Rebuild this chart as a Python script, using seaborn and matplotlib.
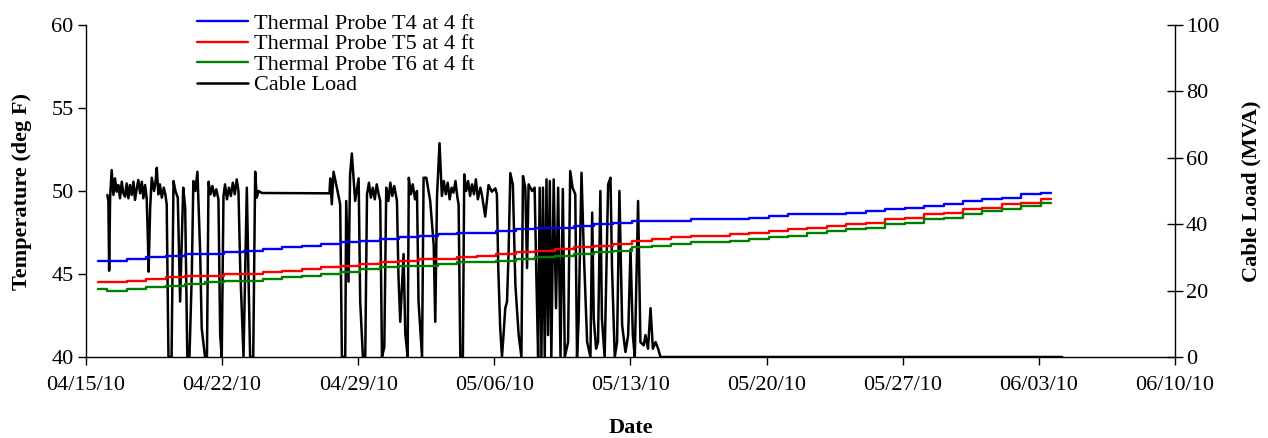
import numpy as np
import pandas as pd
import matplotlib
matplotlib.use('Agg')
import matplotlib.pyplot as plt
import matplotlib.dates as mdates
import seaborn as sns

# probe readings, one per day starting 04/15/10 14:24
PROBE_START = '2010-04-15 14:24'
t4_temp = [45.8, 45.8, 45.9, 46.0, 46.1, 46.2, 46.2, 46.3, 46.4, 46.5,
           46.6, 46.7, 46.8, 46.9, 47.0, 47.1, 47.2, 47.3, 47.4, 47.5,
           47.5, 47.6, 47.7, 47.8, 47.8, 47.9, 48.0, 48.1, 48.2, 48.2,
           48.2, 48.3, 48.3, 48.3, 48.4, 48.5, 48.6, 48.6, 48.6, 48.7,
           48.8, 48.9, 49.0, 49.1, 49.2, 49.4, 49.5, 49.6, 49.8, 49.9]
t5_temp = [44.5, 44.5, 44.6, 44.7, 44.8, 44.9, 44.9, 45.0, 45.0, 45.1,
           45.2, 45.3, 45.4, 45.5, 45.6, 45.7, 45.8, 45.9, 45.9, 46.0,
           46.1, 46.2, 46.3, 46.4, 46.5, 46.6, 46.7, 46.8, 47.0, 47.1,
           47.2, 47.3, 47.3, 47.4, 47.5, 47.6, 47.7, 47.8, 47.9, 48.0,
           48.1, 48.3, 48.4, 48.6, 48.7, 48.9, 49.0, 49.2, 49.3, 49.5]
t6_temp = [44.1, 44.0, 44.1, 44.2, 44.3, 44.4, 44.5, 44.6, 44.6, 44.7,
           44.8, 44.9, 45.0, 45.1, 45.3, 45.4, 45.5, 45.5, 45.6, 45.7,
           45.7, 45.8, 45.9, 46.0, 46.1, 46.2, 46.3, 46.4, 46.6, 46.7,
           46.8, 46.9, 46.9, 47.0, 47.1, 47.2, 47.3, 47.5, 47.6, 47.7,
           47.8, 48.0, 48.1, 48.3, 48.4, 48.6, 48.8, 48.9, 49.1, 49.3]
probe_names = ['Thermal Probe T4 at 4 ft', 'Thermal Probe T5 at 4 ft',
               'Thermal Probe T6 at 4 ft']

# cable load: days after 04/15/10 00:00 and MVA
load_day = [1.10, 1.15, 1.19, 1.24, 1.32, 1.41, 1.49, 1.58, 1.66, 1.75, 1.84, 1.92,
            2.01, 2.09, 2.18, 2.26, 2.35, 2.44, 2.52, 2.61, 2.69, 2.78, 2.87, 2.95,
            3.04, 3.12, 3.18, 3.22, 3.30, 3.38, 3.50, 3.58, 3.64, 3.72, 3.80, 3.90,
            4.00, 4.08, 4.15, 4.24, 4.40, 4.50, 4.60, 4.72, 4.84, 5.00, 5.10, 5.21,
            5.32, 5.44, 5.52, 5.62, 5.73, 5.87, 5.95, 6.12, 6.22, 6.30, 6.40, 6.50,
            6.60, 6.70, 6.81, 6.90, 6.98, 7.07, 7.15, 7.25, 7.35, 7.45, 7.55, 7.65,
            7.75, 7.84, 7.93, 8.10, 8.27, 8.35, 8.44, 8.60, 8.70, 8.78, 8.87, 9.04,
            12.52, 12.56, 12.64, 12.73, 12.90, 13.07, 13.16, 13.33, 13.38, 13.50,
            13.58, 13.67, 13.84, 14.02, 14.10, 14.24, 14.36, 14.45, 14.55, 14.65,
            14.75, 14.85, 14.95, 15.05, 15.13, 15.22, 15.34, 15.44, 15.55, 15.65,
            15.75, 15.85, 15.99, 16.07, 16.16, 16.33, 16.42, 16.54, 16.60, 16.70,
            16.80, 16.92, 17.02, 17.10, 17.28, 17.36, 17.50, 17.70, 17.88, 17.96,
            18.05, 18.18, 18.30, 18.40, 18.50, 18.60, 18.70, 18.80, 18.90, 19.00,
            19.10, 19.16, 19.25, 19.38, 19.45, 19.55, 19.65, 19.75, 19.85, 19.95,
            20.05, 20.15, 20.28, 20.36, 20.53, 20.70, 20.87, 21.05, 21.13, 21.20,
            21.30, 21.39, 21.47, 21.56, 21.65, 21.73, 21.82, 21.95, 22.08, 22.25,
            22.39, 22.47, 22.59, 22.68, 22.76, 22.94, 23.07, 23.16, 23.25, 23.33,
            23.42, 23.50, 23.59, 23.68, 23.76, 23.85, 23.93, 24.05, 24.17, 24.28,
            24.40, 24.52, 24.62, 24.79, 24.90, 25.02, 25.16, 25.25, 25.33, 25.48,
            25.60, 25.77, 25.94, 26.03, 26.11, 26.23, 26.33, 26.45, 26.53, 26.67,
            26.85, 26.97, 27.05, 27.19, 27.31, 27.43, 27.57, 27.74, 27.88, 28.00,
            28.12, 28.22, 28.39, 28.51, 28.68, 28.77, 28.90, 29.03, 29.15, 29.29,
            29.42, 29.54, 50.20]
load_mva = [48.8, 47.0, 26.0, 48.0, 56.3, 48.8, 53.8, 49.8, 51.8, 47.8, 52.8, 49.3,
            48.3, 52.3, 47.8, 51.8, 48.8, 52.8, 47.3, 50.8, 53.3, 49.3, 52.8, 47.8,
            51.8, 47.8, 36.0, 25.7, 45.0, 54.0, 50.0, 53.0, 57.0, 49.0, 52.0, 48.0,
            51.0, 49.0, 46.0, 0.0, 0.0, 53.0, 50.0, 48.0, 16.7, 51.0, 45.0, 0.0,
            0.0, 24.7, 53.0, 50.0, 55.8, 31.7, 8.7, 0.0, 0.0, 52.8, 49.0, 51.5,
            48.5, 50.5, 47.5, 6.6, 0.0, 48.4, 52.0, 47.5, 51.0, 48.5, 52.5, 49.0,
            53.5, 50.0, 26.8, 0.0, 51.0, 26.0, 0.0, 0.0, 55.8, 48.0, 50.0, 49.4,
            49.3, 53.8, 46.0, 55.8, 51.0, 46.0, 0.0, 0.0, 47.0, 22.7,
            55.0, 61.3, 47.0, 53.8, 16.7, 0.0, 0.0, 49.0, 52.5, 48.0,
            51.0, 47.5, 52.0, 49.0, 47.0, 0.0, 3.0, 51.0, 47.0, 52.5,
            48.5, 51.5, 47.0, 24.0, 10.6, 31.0, 7.0, 0.0, 54.0, 49.0,
            52.0, 47.5, 50.0, 16.7, 0.0, 54.0, 54.0, 47.0, 33.7, 10.6,
            48.5, 64.4, 48.5, 53.0, 49.0, 52.5, 47.5, 51.0, 49.5, 53.0,
            48.0, 46.0, 0.0, 0.0, 55.0, 50.0, 53.0, 48.5, 52.0, 49.0,
            53.5, 47.5, 51.0, 48.8, 42.3, 51.8, 49.8, 50.8, 49.0, 26.7,
            8.7, 0.0, 6.6, 14.7, 16.7, 31.4, 55.4, 51.9, 21.7, 6.6,
            0.0, 54.5, 51.0, 26.8, 52.0, 50.0, 51.0, 24.0, 0.0, 51.0,
            0.0, 51.0, 0.0, 53.5, 6.6, 53.0, 0.0, 53.5, 14.7, 51.0,
            0.0, 50.6, 0.0, 4.5, 56.0, 51.0, 49.0, 0.0, 10.6, 55.5,
            31.4, 4.5, 0.0, 43.5, 11.6, 2.5, 4.5, 50.0, 11.6, 0.0,
            52.0, 54.0, 26.8, 0.0, 4.5, 50.0, 9.6, 1.5, 6.6, 32.4,
            6.6, 0.0, 47.0, 4.5, 3.5, 6.6, 2.5, 14.7, 2.5, 4.5,
            2.5, 0.0, 0.0]

PROBE_COLORS = ['#0000ff', '#ff0000', '#008000']
FS = 16

sns.set_style('white')
plt.rcParams['font.family'] = ['Liberation Serif', 'DejaVu Serif']
plt.rcParams.update({
    'font.size': FS,
    'text.color': 'black',
    'axes.labelcolor': 'black',
    'xtick.color': 'black',
    'ytick.color': 'black',
})

probe_time = pd.date_range(PROBE_START, periods=len(t4_temp), freq='D')
probe_df = pd.DataFrame({
    'date': np.tile(probe_time, 3),
    'temp': t4_temp + t5_temp + t6_temp,
    'probe': np.repeat(probe_names, len(t4_temp)),
})
load_df = pd.DataFrame({
    'date': pd.Timestamp('2010-04-15') + pd.to_timedelta(load_day, unit='D'),
    'mva': load_mva,
})

fig = plt.figure(figsize=(12.68, 4.38), dpi=100)
ax = fig.add_axes([86 / 1268, 1 - 357 / 438, (1175 - 86) / 1268, (357 - 25) / 438])
ax2 = ax.twinx()

sns.lineplot(data=probe_df, x='date', y='temp', hue='probe', hue_order=probe_names,
             palette=PROBE_COLORS, drawstyle='steps-mid', linewidth=1.7,
             estimator=None, ax=ax, legend=False, zorder=3)
sns.lineplot(data=load_df, x='date', y='mva', color='black', linewidth=1.8,
             estimator=None, sort=False, ax=ax2, legend=False, zorder=2)

ax.set_ylim(40, 60)
ax.set_yticks(range(40, 61, 5))
ax2.set_ylim(0, 100)
ax2.set_yticks(range(0, 101, 20))
ax.set_xlim(pd.Timestamp('2010-04-15'), pd.Timestamp('2010-06-10'))
ticks = pd.date_range('2010-04-15', '2010-06-10', freq='7D')
ax.set_xticks(ticks)
ax.xaxis.set_major_formatter(mdates.DateFormatter('%m/%d/%y'))

# probe lines above the load trace
ax.set_zorder(ax2.get_zorder() + 1)
ax.patch.set_visible(False)

for a in (ax, ax2):
    a.spines['top'].set_visible(False)
    for s in a.spines.values():
        s.set_color('black')
        s.set_linewidth(1.0)
ax.spines['right'].set_visible(False)
ax2.spines['left'].set_visible(False)
ax2.spines['bottom'].set_visible(False)

ax.tick_params(axis='both', direction='out', length=6, width=1,
               labelsize=FS, left=True, bottom=True)
ax.tick_params(axis='y', pad=3)
ax.tick_params(axis='x', pad=8)
ax2.tick_params(axis='y', direction='inout', length=12, width=1,
                labelsize=FS, pad=2, right=True)

ax.set_xlabel('Date', fontweight='bold', fontsize=FS, labelpad=16)
ax.set_ylabel('Temperature (deg F)', fontweight='bold', fontsize=FS, labelpad=14)
ax2.set_ylabel('Cable Load (MVA)', fontweight='bold', fontsize=FS, labelpad=16)

handles = ax.get_lines()[:3] + ax2.get_lines()[:1]
labels = probe_names + ['Cable Load']
fig.legend(handles, labels, loc='upper left', bbox_to_anchor=(0.148, 0.99),
           frameon=False, fontsize=FS, handlelength=2.3, handletextpad=0.3,
           labelspacing=0.0, borderaxespad=0)

fig.savefig('out.png', dpi=100)
